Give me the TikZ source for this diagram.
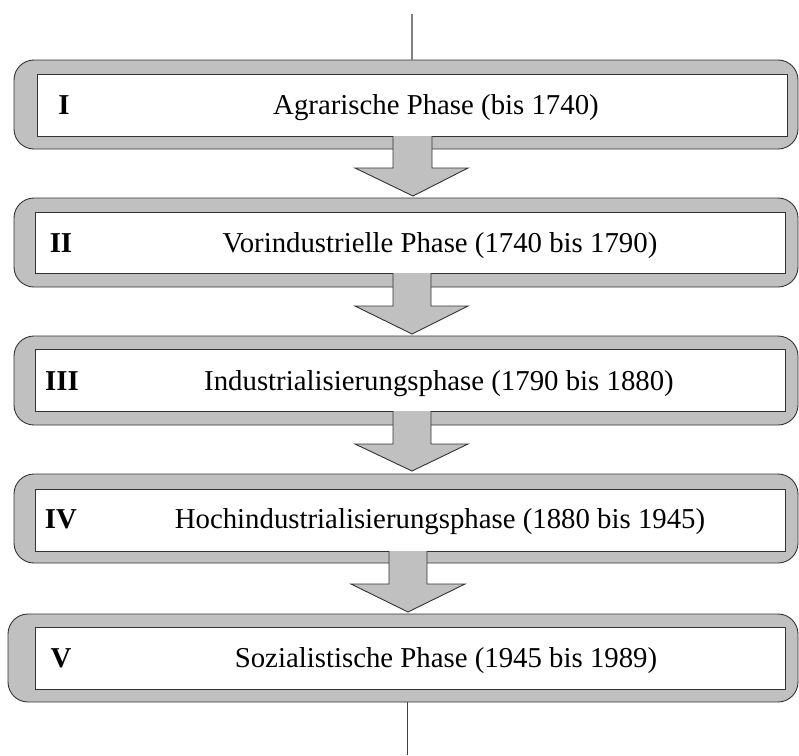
\documentclass[tikz,border=0pt]{standalone}
\usepackage{fontspec}
\setmainfont{Liberation Serif}
\begin{document}
\begin{tikzpicture}[x=1pt,y=-1pt,
  frame/.style={draw=black!80,line width=0.9pt,fill=framegray,rounded corners=20pt,inner sep=0pt,minimum height=89pt,minimum width=784pt},
  inbox/.style={draw=black!80,line width=0.9pt,fill=white,inner sep=0pt,minimum width=750pt,minimum height=62pt},
  phasetext/.style={font=\fontsize{28.8}{34}\selectfont,inner sep=0pt,anchor=base},
  numtext/.style={font=\fontsize{28.8}{34}\selectfont\bfseries,inner sep=0pt,anchor=base},
  blockarrow/.style={draw=black!80,line width=0.9pt,fill=framegray,line join=miter}
]
\definecolor{framegray}{HTML}{C0C0C0}
\useasboundingbox (0,0) rectangle (799,755);

% box I
\node[frame] (o1) at (406,104.5) {};
\node[inbox] (i1) at (412,105) {};
\node[numtext] (n1) at (64,114.5) {I};
\node[phasetext] (t1) at (436,114.5) {Agrarische Phase (bis 1740)};
% box II
\node[frame] (o2) at (406,242.5) {};
\node[inbox,minimum height=61pt] (i2) at (410,242.5) {};
\node[numtext] (n2) at (61,252) {II};
\node[phasetext] (t2) at (440,252) {Vorindustrielle Phase (1740 bis 1790)};
% box III
\node[frame] (o3) at (406,380.5) {};
\node[inbox] (i3) at (410,380) {};
\node[numtext] (n3) at (62,390) {III};
\node[phasetext] (t3) at (439,390) {Industrialisierungsphase (1790 bis 1880)};
% box IV
\node[frame] (o4) at (406,518.5) {};
\node[inbox] (i4) at (410,520) {};
\node[numtext] (n4) at (61,528) {IV};
\node[phasetext] (t4) at (440,528) {Hochindustrialisierungsphase (1880 bis 1945)};
% box V
\node[frame,minimum width=790pt,minimum height=88pt] (o5) at (403,658) {};
\node[inbox] (i5) at (410,658) {};
\node[numtext] (n5) at (61,667) {V};
\node[phasetext] (t5) at (446,667) {Sozialistische Phase (1945 bis 1989)};

% lines top and bottom
\coordinate (ctop) at (412,14);
\coordinate (cbot) at (407,755);
\draw[draw=black!50,line width=1.6pt] (ctop) -- (ctop |- o1.north);
\draw[draw=black!75,line width=1pt] (cbot |- o5.south) -- (cbot);

% block arrows
\path[blockarrow] (393,136) -- (393,168) -- (355,168) -- (413,196) -- (468,168) -- (432,168) -- (432,136);
\path[blockarrow] (393,273) -- (393,306) -- (355,306) -- (412,334) -- (468,306) -- (431,306) -- (431,273);
\path[blockarrow] (393,411) -- (393,444) -- (355,444) -- (412,471) -- (468,444) -- (431,444) -- (431,411);
\path[blockarrow] (389,551) -- (389,584) -- (351,584) -- (408,612) -- (465,584) -- (427,584) -- (427,551);
\end{tikzpicture}
\end{document}
